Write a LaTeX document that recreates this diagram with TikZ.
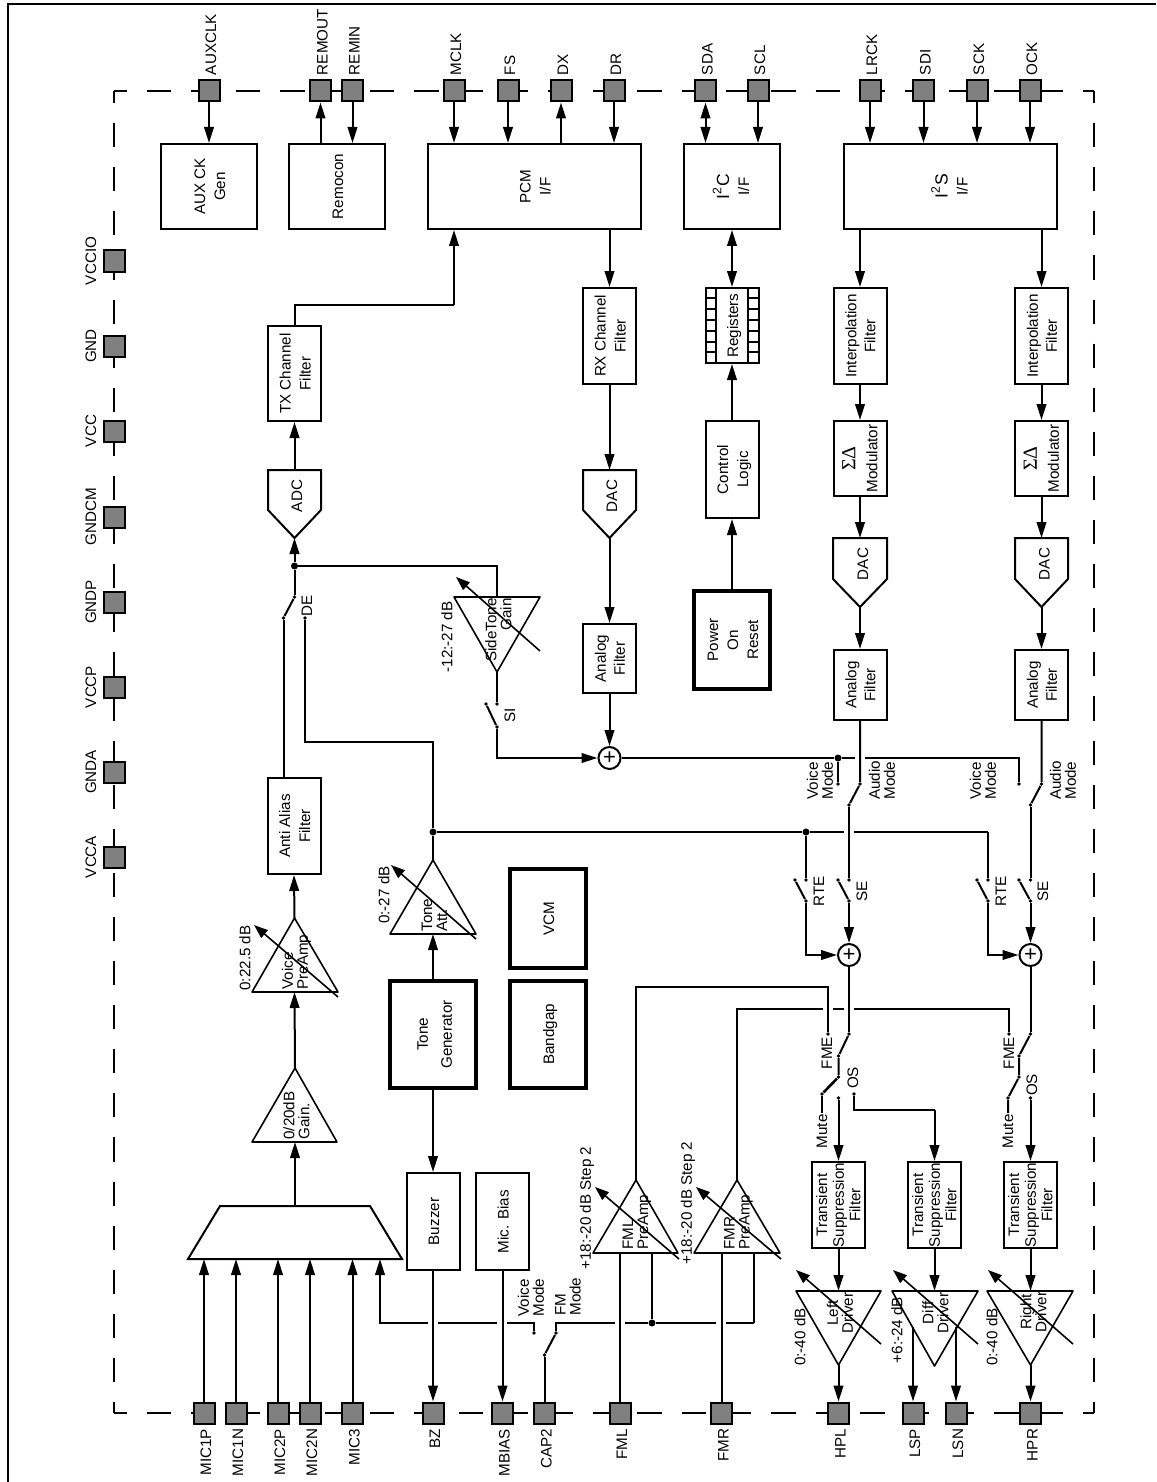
\documentclass[tikz,border=0pt]{standalone}
\usepackage{xcolor}
\usepackage{fontspec}
\setmainfont{Liberation Sans}
\newfontfamily\greekfont{Liberation Serif}
\usetikzlibrary{
  arrows.meta,
  positioning,
  calc
}
\definecolor{padGray}{HTML}{808080}
\newcommand{\vlab}[2][10pt]{\kern2pt\rotatebox{90}{\fontsize{7.6}{#1}\selectfont\begin{tabular}{@{}c@{}}#2\end{tabular}}}
\tikzset{
  bigblock/.style={draw, line width=1pt, minimum width=48pt, minimum height=42.5pt, inner sep=0pt},
  midblock/.style={draw, line width=1pt, minimum width=26.5pt, minimum height=48pt, inner sep=0pt},
  thickblock/.style={draw, line width=2pt, minimum width=38pt, minimum height=49pt, inner sep=0pt},
  pad/.style={draw, line width=1pt, fill=padGray, minimum size=10.5pt, inner sep=0pt},
  vtext/.style={rotate=90, inner sep=0pt, font=\fontsize{7.6}{7.5}\selectfont},
  toplab/.style={xshift=1pt, yshift=2pt, rotate=90, anchor=west, inner sep=0pt, font=\fontsize{7.6}{7.5}\selectfont},
  botlab/.style={xshift=1pt, yshift=-2pt, rotate=90, anchor=east, inner sep=0pt, font=\fontsize{7.6}{7.5}\selectfont},
  sumnode/.style={draw, circle, line width=1pt, fill=white, minimum size=11pt, inner sep=0pt, font=\fontsize{11}{11}\selectfont},
  junction/.style={circle, fill=black, minimum size=3.5pt, inner sep=0pt},
  contact/.style={circle, fill=black, minimum size=1.8pt, inner sep=0pt},
  boundaryh/.style={line width=1pt, dash pattern=on 12.3pt off 10pt, dash phase=6pt},
  boundaryv/.style={line width=1pt, dash pattern=on 12.05pt off 10pt, dash phase=6pt},
  wire/.style={line width=1pt},
  arr/.style={wire, -{Triangle[length=8pt,width=4.8pt]}},
  darr/.style={wire, {Triangle[length=8pt,width=4.8pt]}-{Triangle[length=8pt,width=4.8pt]}},
  tri/.style={line width=.8pt, line join=round},
  gainarr/.style={line width=.8pt, -{Triangle[length=7pt,width=5pt]}}
}
\begin{document}
\begin{tikzpicture}[x=0.5pt, y=-0.5pt]
  \useasboundingbox (0,0) rectangle (1156,1482);
  % sheet edge
  \coordinate (sheetbl) at (7.5,1482);
  \coordinate (sheettl) at (7.5,4);
  \coordinate (sheettr) at (1156,4);
  \draw[line width=1pt] (sheetbl) -- (sheettl) -- (sheettr);

  % chip outline
  \coordinate (chiptl) at (114,91);
  \coordinate (chiptr) at (1094,91);
  \coordinate (chipbl) at (114,1413);
  \coordinate (chipbr) at (1094,1413);
  \draw[boundaryh] (chiptl) -- (chiptr);
  \draw[boundaryv] (chiptl) -- (chipbl);
  \draw[boundaryv] (chiptr) -- (chipbr);
  \draw[boundaryh] (chipbl) -- (chipbr);

  % top pads
  \node[pad] (auxclk) at (209,91) {};
  \node[pad] (remout) at (320.5,91) {};
  \node[pad] (remin) at (352.5,91) {};
  \node[pad] (mclk) at (454,91) {};
  \node[pad] (fs) at (508,91) {};
  \node[pad] (dx) at (561,91) {};
  \node[pad] (dr) at (614,91) {};
  \node[pad] (sda) at (705.5,91) {};
  \node[pad] (scl) at (758,91) {};
  \node[pad] (lrck) at (870,91) {};
  \node[pad] (sdi) at (923.5,91) {};
  \node[pad] (sck) at (977,91) {};
  \node[pad] (ock) at (1030,91) {};
  \node[toplab] (auxclklab) at (auxclk.north) {AUXCLK};
  \node[toplab] (remoutlab) at (remout.north) {REMOUT};
  \node[toplab] (reminlab) at (remin.north) {REMIN};
  \node[toplab] (mclklab) at (mclk.north) {MCLK};
  \node[toplab] (fslab) at (fs.north) {FS};
  \node[toplab] (dxlab) at (dx.north) {DX};
  \node[toplab] (drlab) at (dr.north) {DR};
  \node[toplab] (sdalab) at (sda.north) {SDA};
  \node[toplab] (scllab) at (scl.north) {SCL};
  \node[toplab] (lrcklab) at (lrck.north) {LRCK};
  \node[toplab] (sdilab) at (sdi.north) {SDI};
  \node[toplab] (scklab) at (sck.north) {SCK};
  \node[toplab] (ocklab) at (ock.north) {OCK};

  % left pads
  \node[pad] (vccio) at (114,261) {};
  \node[pad] (gnd) at (114,346) {};
  \node[pad] (vcc) at (114,431) {};
  \node[pad] (gndcm) at (114,517) {};
  \node[pad] (gndp) at (114,602) {};
  \node[pad] (vccp) at (114,687) {};
  \node[pad] (gnda) at (114,772) {};
  \node[pad] (vcca) at (114,857) {};
  \node[vtext] (vcciolab) at (91,261) {VCCIO};
  \node[vtext] (gndlab) at (91,346) {GND};
  \node[vtext] (vcclab) at (91,431) {VCC};
  \node[vtext] (gndcmlab) at (91,517) {GNDCM};
  \node[vtext] (gndplab) at (91,602) {GNDP};
  \node[vtext] (vccplab) at (91,687) {VCCP};
  \node[vtext] (gndalab) at (91,772) {GNDA};
  \node[vtext] (vccalab) at (91,857) {VCCA};

  % bottom pads
  \node[pad] (mic1p) at (204,1413) {};
  \node[pad] (mic1n) at (236,1413) {};
  \node[pad] (mic2p) at (278,1413) {};
  \node[pad] (mic2n) at (310,1413) {};
  \node[pad] (mic3) at (352.5,1413) {};
  \node[pad] (bz) at (433,1413) {};
  \node[pad] (mbias) at (502.5,1413) {};
  \node[pad] (cap2) at (544.5,1413) {};
  \node[pad] (fmlpad) at (620,1413) {};
  \node[pad] (fmrpad) at (721.5,1413) {};
  \node[pad] (hpl) at (838.5,1413) {};
  \node[pad] (lsp) at (913,1413) {};
  \node[pad] (lsn) at (956,1413) {};
  \node[pad] (hpr) at (1030.5,1413) {};
  \node[botlab] (mic1plab) at (mic1p.south) {MIC1P};
  \node[botlab] (mic1nlab) at (mic1n.south) {MIC1N};
  \node[botlab] (mic2plab) at (mic2p.south) {MIC2P};
  \node[botlab] (mic2nlab) at (mic2n.south) {MIC2N};
  \node[botlab] (mic3lab) at (mic3.south) {MIC3};
  \node[botlab] (bzlab) at (bz.south) {BZ};
  \node[botlab] (mbiaslab) at (mbias.south) {MBIAS};
  \node[botlab] (cap2lab) at (cap2.south) {CAP2};
  \node[botlab] (fmllab) at (fmlpad.south) {FML};
  \node[botlab] (fmrlab) at (fmrpad.south) {FMR};
  \node[botlab] (hpllab) at (hpl.south) {HPL};
  \node[botlab] (lsplab) at (lsp.south) {LSP};
  \node[botlab] (lsnlab) at (lsn.south) {LSN};
  \node[botlab] (hprlab) at (hpr.south) {HPR};

  % interface blocks
  \node[bigblock] (aux) at (209,186.5) {\vlab{AUX CK\\Gen}};
  \node[bigblock] (remocon) at (337,186.5) {\vlab{Remocon}};
  \node[bigblock, minimum width=106.5pt] (pcm) at (534.5,186.5) {\vlab{PCM\\I/F}};
  \node[bigblock] (i2c) at (732,186.5) {\vlab{{\fontsize{8.8}{10}\selectfont I\textsuperscript{2}C}\\I/F}};
  \node[bigblock, minimum width=106.5pt] (i2s) at (950.5,186.5) {\vlab{{\fontsize{8.8}{10}\selectfont I\textsuperscript{2}S}\\I/F}};

  % filters and logic
  \node[midblock, minimum height=47.5pt] (tx) at (294.5,373.5) {\vlab{TX Channel\\Filter}};
  \node[midblock] (rx) at (609.5,336) {\vlab{RX Channel\\Filter}};
  \node[midblock, minimum height=34.5pt] (afm) at (609.5,658.5) {\vlab[9.5pt]{Analog\\Filter}};
  \node[midblock, minimum height=37.5pt] (regs) at (732,325.5) {\vlab{Registers}};
  \node[midblock, minimum height=48.5pt] (ctrl) at (732,469.5) {\vlab{Control\\Logic}};
  \node[thickblock] (por) at (732,640) {\vlab{Power\\On\\Reset}};
  \node[midblock] (intl) at (860,336) {\vlab[9.5pt]{Interpolation\\Filter}};
  \node[midblock] (intr) at (1041.5,336) {\vlab[9.5pt]{Interpolation\\Filter}};
  \node[midblock, minimum height=37.5pt] (sdl) at (860,458.5) {\vlab[11pt]{{\fontsize{10}{11}\greekfont ΣΔ}\\Modulator}};
  \node[midblock, minimum height=37.5pt] (sdr) at (1041.5,458.5) {\vlab[11pt]{{\fontsize{10}{11}\greekfont ΣΔ}\\Modulator}};
  \node[midblock, minimum height=35pt] (afl) at (860,685) {\vlab[9.5pt]{Analog\\Filter}};
  \node[midblock, minimum height=35pt] (afr) at (1041.5,685) {\vlab[9.5pt]{Analog\\Filter}};
  \node[midblock] (anti) at (294,826) {\vlab{Anti Alias\\Filter}};
  \node[thickblock, minimum width=43pt, minimum height=53.5pt] (tonegen) at (433,1034.5) {\vlab[12pt]{Tone\\Generator}};
  \node[thickblock, minimum height=49.5pt] (vcm) at (548,918.5) {\vlab{VCM}};
  \node[thickblock, minimum height=53.5pt] (bandgap) at (548,1034.5) {\vlab{Bandgap}};
  \node[midblock, minimum height=48.5pt] (buzzer) at (433,1221.5) {\vlab{Buzzer}};
  \node[midblock, minimum height=48.5pt] (micbias) at (502.5,1221.5) {\vlab{Mic. Bias}};
  \node[midblock, minimum height=43pt] (transl) at (838.5,1205) {\vlab[8.3pt]{Transient\\Suppression\\Filter}};
  \node[midblock, minimum height=43pt] (transd) at (934.5,1205) {\vlab[8.3pt]{Transient\\Suppression\\Filter}};
  \node[midblock, minimum height=43pt] (transr) at (1030.5,1205) {\vlab[8.3pt]{Transient\\Suppression\\Filter}};

  % register cells
  \draw[wire] (716,288) -- (716,363) (747.5,288) -- (747.5,363);
  \draw[wire] (705,298) -- (716,298) (747.5,298) -- (760,298)
    (705,309) -- (716,309) (747.5,309) -- (760,309)
    (705,320) -- (716,320) (747.5,320) -- (760,320)
    (705,331) -- (716,331) (747.5,331) -- (760,331)
    (705,342) -- (716,342) (747.5,342) -- (760,342)
    (705,352) -- (716,352) (747.5,352) -- (760,352);

  % converters
  \coordinate (adctop) at (294.5,470);
  \coordinate (adctip) at (294.5,538);
  \draw[wire] (268,470) -- (321,470) -- (321,510) -- (adctip) -- (268,510) -- cycle;
  \node[vtext] (adc) at (297,496) {ADC};
  \coordinate (dacmtop) at (609.5,470);
  \coordinate (dacmtip) at (609.5,538);
  \draw[wire] (583,470) -- (636,470) -- (636,510) -- (dacmtip) -- (583,510) -- cycle;
  \node[vtext] (dacm) at (612,496) {DAC};
  \coordinate (dacltop) at (860,538);
  \coordinate (dacltip) at (860,607);
  \draw[wire] (833,538) -- (887,538) -- (887,579) -- (dacltip) -- (833,579) -- cycle;
  \node[vtext] (dacl) at (863,564) {DAC};
  \coordinate (dacrtop) at (1041.5,538);
  \coordinate (dacrtip) at (1041.5,607);
  \draw[wire] (1015,538) -- (1068,538) -- (1068,579) -- (dacrtip) -- (1015,579) -- cycle;
  \node[vtext] (dacr) at (1044.5,564) {DAC};

  % mux
  \coordinate (muxtop) at (295,1206);
  \coordinate (muxbot) at (295,1259);
  \draw[wire] (220,1206) -- (370,1206) -- (402,1259) -- (188,1259) -- cycle;

  % amplifiers
  \coordinate (stgtop) at (497,597);
  \coordinate (stgtip) at (497,672);
  \draw[tri] (454,597) -- (540,597) -- (stgtip) -- cycle;
  \draw[gainarr] (540,651) -- (456,577);
  \node[vtext, anchor=east, align=right] (stg) at (498.5,598) {SideTone\\Gain};
  \node[vtext] (stglab) at (447,637) {-12:-27 dB};

  \coordinate (attip) at (433,860);
  \coordinate (atbase) at (433,934);
  \draw[tri] (attip) -- (476,934) -- (390,934) -- cycle;
  \draw[gainarr] (476,939) -- (391,865);
  \node[vtext, anchor=west, align=left] (att) at (434.5,932) {Tone\\Att.};
  \node[vtext] (attlab) at (384,895) {0:-27 dB};

  \coordinate (vptip) at (294.5,918);
  \coordinate (vpbase) at (294.5,992);
  \draw[tri] (vptip) -- (338,992) -- (252,992) -- cycle;
  \draw[gainarr] (338,997) -- (254,925);
  \node[vtext, anchor=west, align=left] (vp) at (296.5,990) {Voice\\PreAmp};
  \node[vtext] (vplab) at (245,958) {0:22.5 dB};

  \coordinate (mgtip) at (295,1068);
  \coordinate (mgbase) at (295,1142);
  \draw[tri] (mgtip) -- (337,1142) -- (252,1142) -- cycle;
  \node[vtext, anchor=west, align=left] (mg) at (296.5,1140) {0/20dB\\Gain.};

  \coordinate (fmltip) at (636,1180);
  \coordinate (fmlbase) at (636,1253);
  \draw[tri] (fmltip) -- (678,1253) -- (593,1253) -- cycle;
  \draw[gainarr] (679,1259) -- (595,1187);
  \node[vtext, anchor=west, align=left] (fmla) at (637,1250) {FML\\PreAmp};
  \node[vtext] (fmlalab) at (587,1208) {+18:-20 dB Step 2};

  \coordinate (fmrtip) at (737,1180);
  \coordinate (fmrbase) at (737,1253);
  \draw[tri] (fmrtip) -- (780,1253) -- (694,1253) -- cycle;
  \draw[gainarr] (781,1259) -- (696,1187);
  \node[vtext, anchor=west, align=left] (fmra) at (738.5,1250) {FMR\\PreAmp};
  \node[vtext] (fmralab) at (688,1203) {+18:-20 dB Step 2};

  \coordinate (ldtop) at (838.5,1291);
  \coordinate (ldtip) at (838.5,1365);
  \draw[tri] (796,1291) -- (881,1291) -- (ldtip) -- cycle;
  \draw[gainarr] (881,1344) -- (796,1270);
  \node[vtext, align=center] (ld) at (840,1313) {Left\\Driver};
  \node[vtext] (ldlab) at (800,1337) {0:-40 dB};

  \coordinate (ddtop) at (934.5,1291);
  \coordinate (ddedge) at (934.5,1327);
  \draw[tri] (892,1291) -- (978,1291) -- (934.5,1366) -- cycle;
  \draw[gainarr] (978,1344) -- (893,1270);
  \node[vtext, align=center] (dd) at (935.5,1313) {Diff\\Driver};
  \node[vtext] (ddlab) at (897,1330) {+6:-24 dB};

  \coordinate (rdtop) at (1030.5,1291);
  \coordinate (rdtip) at (1030.5,1365);
  \draw[tri] (987,1291) -- (1073,1291) -- (rdtip) -- cycle;
  \draw[gainarr] (1073,1344) -- (988,1270);
  \node[vtext, align=center] (rd) at (1033.5,1312) {Right\\Driver};
  \node[vtext] (rdlab) at (992,1337) {0:-40 dB};

  % summers
  \node[sumnode] (sumrx) at (609.5,758) {+};
  \node[sumnode] (suml) at (849,955) {+};
  \node[sumnode] (sumr) at (1030.5,955) {+};

  % pad connections, top
  \draw[arr] (auxclk.south) -- (aux.north -| auxclk);
  \draw[arr] (remocon.north -| remout) -- (remout.south);
  \draw[arr] (remin.south) -- (remocon.north -| remin);
  \draw[arr] (mclk.south) -- (pcm.north -| mclk);
  \draw[arr] (fs.south) -- (pcm.north -| fs);
  \draw[arr] (pcm.north -| dx) -- (dx.south);
  \draw[arr] (dr.south) -- (pcm.north -| dr);
  \draw[darr] (sda.south) -- (i2c.north -| sda);
  \draw[arr] (scl.south) -- (i2c.north -| scl);
  \draw[arr] (lrck.south) -- (i2s.north -| lrck);
  \draw[arr] (sdi.south) -- (i2s.north -| sdi);
  \draw[arr] (sck.south) -- (i2s.north -| sck);
  \draw[arr] (ock.south) -- (i2s.north -| ock);

  % receive and transmit paths
  \coordinate (txbend) at (454,305);
  \draw[wire] (tx.north) |- (txbend);
  \draw[arr] (txbend) -- (pcm.south -| mclk);
  \draw[arr] (adctop) -- (tx.south);
  \draw[arr] (pcm.south -| rx) -- (rx.north);
  \draw[arr] (rx.south) -- (dacmtop);
  \draw[arr] (dacmtip) -- (afm.north);
  \draw[arr] (afm.south) -- (sumrx.north);
  \draw[darr] (i2c.south) -- (regs.north);
  \draw[arr] (ctrl.north) -- (regs.south);
  \draw[arr] (por.north) -- (ctrl.south);

  % audio paths
  \draw[arr] (i2s.south -| intl) -- (intl.north);
  \draw[arr] (i2s.south -| intr) -- (intr.north);
  \draw[arr] (intl.south) -- (sdl.north);
  \draw[arr] (intr.south) -- (sdr.north);
  \draw[arr] (sdl.south) -- (dacltop);
  \draw[arr] (sdr.south) -- (dacrtop);
  \draw[arr] (dacltip) -- (afl.north);
  \draw[arr] (dacrtip) -- (afr.north);

  % mic path
  \draw[arr] (mic1p.north) -- (muxbot -| mic1p);
  \draw[arr] (mic1n.north) -- (muxbot -| mic1n);
  \draw[arr] (mic2p.north) -- (muxbot -| mic2p);
  \draw[arr] (mic2n.north) -- (muxbot -| mic2n);
  \draw[arr] (mic3.north) -- (muxbot -| mic3);
  \draw[arr] (muxtop) -- (mgbase);
  \draw[arr] (mgtip) -- (vpbase);
  \draw[arr] (vptip) -- (anti.south);

  % DE switch
  \node[junction] (jadc) at (294.5,566) {};
  \node[contact] (depole) at (294.5,597) {};
  \node[contact] (deleft) at (283.5,618) {};
  \node[contact] (deright) at (305,618) {};
  \node[vtext] (delab) at (307,606) {DE};
  \draw[arr] (jadc) -- (adctip);
  \draw[wire] (depole) -- (jadc);
  \draw[wire] (depole) -- (deleft);
  \draw[wire] (deleft) -- (anti.north -| deleft);
  \coordinate (debend) at (433,742);
  \node[junction] (jtone) at (433,832) {};
  \draw[wire] (deright) |- (debend) -- (jtone);
  \draw[wire] (jtone) -- (attip);
  \draw[arr] (tonegen.north) -- (atbase);
  \draw[wire] (jadc) -| (stgtop);

  % SI switch
  \node[contact] (situp) at (497,704) {};
  \node[contact] (siblade) at (486,704) {};
  \node[contact] (sidown) at (497,727) {};
  \node[vtext] (silab) at (510,715) {SI};
  \draw[wire] (stgtip) -- (situp);
  \draw[wire] (siblade) -- (sidown);
  \draw[arr] (sidown) |- (sumrx.west);

  % mode switches
  \node[junction] (jvoice) at (838,758) {};
  \coordinate (vgapa) at (855,758);
  \coordinate (vgapb) at (865,758);
  \coordinate (vbend) at (1019,758);
  \node[contact] (vml) at (838,784) {};
  \node[contact] (vmr) at (1019,784) {};
  \node[contact] (aml) at (860,784) {};
  \node[contact] (amr) at (1041.5,784) {};
  \node[contact] (oml) at (849,805) {};
  \node[contact] (omr) at (1030.5,805) {};
  \draw[wire] (sumrx.east) -- (jvoice) -- (vgapa);
  \draw[wire] (vgapb) -- (vbend) -- (vmr);
  \draw[wire] (jvoice) -- (vml);
  \draw[wire] (afl.south) -- (aml) -- (oml);
  \draw[wire] (afr.south) -- (amr) -- (omr);
  \node[vtext, anchor=west, align=left] (vmllab) at (820,800) {Voice\\Mode};
  \node[vtext, anchor=west, align=left] (amllab) at (882,800) {Audio\\Mode};
  \node[vtext, anchor=west, align=left] (vmrlab) at (983,800) {Voice\\Mode};
  \node[vtext, anchor=west, align=left] (amrlab) at (1063,800) {Audio\\Mode};

  % tone feed and RTE / SE switches
  \node[junction] (jrte) at (806,832) {};
  \coordinate (tgapa) at (844,832);
  \coordinate (tgapb) at (854,832);
  \coordinate (tbend) at (988,832);
  \draw[wire] (jtone) -- (jrte) -- (tgapa);
  \draw[wire] (tgapb) -- (tbend);
  \node[contact] (rtelup) at (806,880) {};
  \node[contact] (rtelb) at (795,880) {};
  \node[contact] (rteld) at (806,901) {};
  \node[contact] (rterup) at (988,880) {};
  \node[contact] (rterb) at (977,880) {};
  \node[contact] (rterd) at (988,901) {};
  \node[contact] (selup) at (849,880) {};
  \node[contact] (selb) at (838,880) {};
  \node[contact] (seld) at (849,901) {};
  \node[contact] (serup) at (1030.5,880) {};
  \node[contact] (serb) at (1019,880) {};
  \node[contact] (serd) at (1030.5,901) {};
  \draw[wire] (jrte) -- (rtelup);
  \draw[wire] (tbend) -- (rterup);
  \draw[wire] (oml) -- (selup);
  \draw[wire] (omr) -- (serup);
  \draw[wire] (rtelb) -- (rteld);
  \draw[wire] (rterb) -- (rterd);
  \draw[wire] (selb) -- (seld);
  \draw[wire] (serb) -- (serd);
  \draw[arr] (rteld) |- (suml.west);
  \draw[arr] (rterd) |- (sumr.west);
  \draw[arr] (seld) -- (suml.north);
  \draw[arr] (serd) -- (sumr.north);
  \node[vtext] (rtellab) at (819,891) {RTE};
  \node[vtext] (sellab) at (862,891) {SE};
  \node[vtext] (rterlab) at (1001,891) {RTE};
  \node[vtext] (serlab) at (1043,891) {SE};

  % FM feed and output switches
  \coordinate (fmlbend) at (828,987);
  \node[contact] (fmel) at (828,1034) {};
  \draw[wire] (fmltip) |- (fmlbend) -- (fmel);
  \coordinate (fgapa) at (823,1009);
  \coordinate (fgapb) at (833,1009);
  \coordinate (fgapc) at (844,1009);
  \coordinate (fgapd) at (854,1009);
  \coordinate (fmrbend) at (1009,1009);
  \node[contact] (fmer) at (1009,1034) {};
  \draw[wire] (fmrtip) |- (fgapa);
  \draw[wire] (fgapb) -- (fgapc);
  \draw[wire] (fgapd) -- (fmrbend) -- (fmer);

  \node[contact] (outlup) at (849,1034) {};
  \node[contact] (outlmid) at (838.5,1056) {};
  \node[contact] (outlb) at (838.5,1077) {};
  \node[contact] (mutel) at (822,1094) {};
  \coordinate (mutelend) at (822,1113);
  \node[contact] (signall) at (838.5,1098) {};
  \node[contact] (osl) at (854,1094) {};
  \coordinate (oslbend) at (934.5,1110);
  \draw[wire] (suml.south) -- (outlup);
  \draw[wire] (outlup) -- (outlmid) -- (outlb);
  \draw[line width=1.3pt] (outlb) -- (mutel);
  \draw[wire] (mutel) -- (mutelend);
  \draw[arr] (signall) -- (transl.north);
  \draw[wire] (osl) |- (oslbend);
  \draw[arr] (oslbend) -- (transd.north);

  \node[contact] (outrup) at (1030.5,1034) {};
  \node[contact] (outrmid) at (1019,1056) {};
  \node[contact] (outrb) at (1019,1077) {};
  \node[contact] (muter) at (1008,1098) {};
  \coordinate (muterend) at (1008,1113);
  \node[contact] (signalr) at (1030.5,1098) {};
  \draw[wire] (sumr.south) -- (outrup);
  \draw[wire] (outrup) -- (outrmid) -- (outrb) -- (muter) -- (muterend);
  \draw[arr] (signalr) -- (transr.north);

  \node[vtext] (fmellab) at (827,1053) {FME};
  \node[vtext] (fmerlab) at (1009,1053) {FME};
  \node[vtext] (osllab) at (853,1078) {OS};
  \node[vtext] (osrlab) at (1032,1085) {OS};
  \node[vtext, anchor=east] (mutellab) at (822,1114) {Mute};
  \node[vtext, anchor=east] (muterlab) at (1008,1114) {Mute};

  % drivers to pads
  \draw[arr] (transl.south) -- (ldtop);
  \draw[arr] (transd.south) -- (ddtop);
  \draw[arr] (transr.south) -- (rdtop);
  \draw[arr] (ldtip) -- (hpl.north);
  \draw[arr] (rdtip) -- (hpr.north);
  \draw[arr] (ddedge -| lsp) -- (lsp.north);
  \draw[arr] (ddedge -| lsn) -- (lsn.north);

  % buzzer and bias
  \draw[arr] (tonegen.south) -- (buzzer.north);
  \draw[arr] (buzzer.south) -- (bz.north);
  \draw[arr] (micbias.south) -- (mbias.north);

  % FM / voice mode switch
  \coordinate (vmx) at (380,1259);
  \coordinate (cmbase) at (380,1323);
  \coordinate (cgapa) at (428,1323);
  \coordinate (cgapb) at (437.5,1323);
  \coordinate (cgapc) at (497,1323);
  \coordinate (cgapd) at (507,1323);
  \coordinate (cvoice) at (534,1323);
  \node[contact] (cvm) at (534,1333) {};
  \draw[arr] (cgapa) -| (vmx);
  \draw[wire] (cgapb) -- (cgapc);
  \draw[wire] (cgapd) -- (cvoice) -- (cvm);
  \node[contact] (cfm) at (556,1333) {};
  \node[contact] (cblade) at (544.5,1355) {};
  \coordinate (cfmup) at (556,1323);
  \coordinate (fgape) at (615,1323);
  \coordinate (fgapf) at (625,1323);
  \coordinate (fgapg) at (716,1323);
  \coordinate (fgaph) at (726,1323);
  \node[junction] (jfm) at (652,1323) {};
  \coordinate (fmrfb) at (754,1323);
  \draw[wire] (cfm) -- (cfmup) -- (fgape);
  \draw[wire] (fgapf) -- (jfm) -- (fgapg);
  \draw[wire] (fgaph) -- (fmrfb);
  \draw[wire] (cblade) -- (cfm);
  \draw[wire] (cap2.north) -- (cblade);
  \draw[wire] (jfm) -- (fmlbase -| jfm);
  \draw[wire] (fmrfb) -- (fmrbase -| fmrfb);
  \draw[wire] (fmlpad.north) -- (fmlbase -| fmlpad);
  \draw[wire] (fmrpad.north) -- (fmrbase -| fmrpad);
  \node[vtext, anchor=west, align=left] (cvmlab) at (531,1317) {Voice\\Mode};
  \node[vtext, anchor=west, align=left] (cfmlab) at (568,1316) {FM\\Mode};
\end{tikzpicture}
\end{document}
